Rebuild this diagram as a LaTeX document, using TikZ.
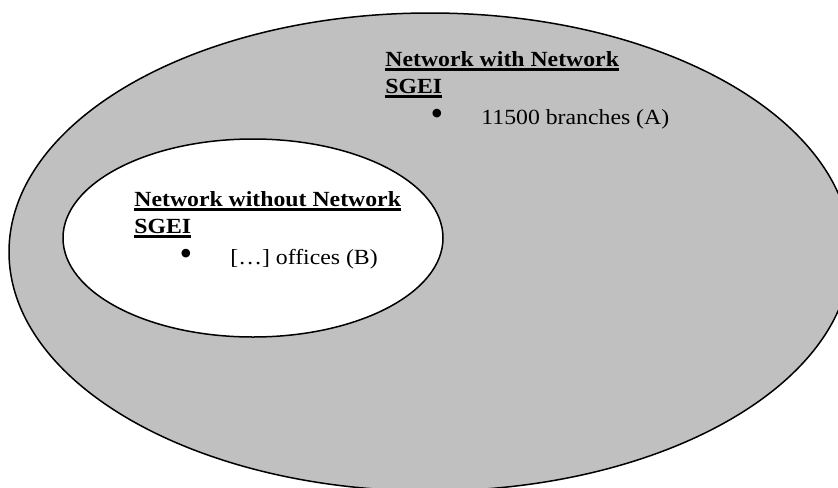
\documentclass[tikz,border=0pt]{standalone}
\usepackage{fontspec}
\setmainfont{Liberation Serif}
\newfontfamily\wideserif[FakeStretch=1.1]{Liberation Serif}
\usetikzlibrary{shapes.geometric, positioning}
\definecolor{netgray}{RGB}{192,192,192}
\newcommand{\ulbf}[1]{\setbox0\hbox{\bfseries #1}\rlap{\rule[-2.3pt]{\wd0}{1.4pt}}\box0}

\begin{document}
\begin{tikzpicture}[x=0.5pt,y=-0.5pt,
  set/.style={ellipse,draw,line width=0.75pt,inner sep=0pt},
  head/.style={anchor=base west,inner sep=0pt,font=\wideserif\fontsize{10.8}{13}\selectfont},
  item/.style={anchor=base west,inner sep=0pt,font=\wideserif\fontsize{10.8}{13}\selectfont},
  dot/.style={anchor=center,inner sep=0pt,font=\fontsize{18}{18}\selectfont}]
\useasboundingbox (0,0) rectangle (838,487);
\clip (0,0) rectangle (838,487);

% the two sets
\node[set,fill=netgray,minimum width=421pt,minimum height=239pt] (withSGEI) at (430,252) {};
\node[set,fill=white,minimum width=190pt,minimum height=99pt] (withoutSGEI) at (253,238) {};

% network with SGEI
\node[head] (headA) at (385,66) {\ulbf{Network with Network}};
\node[head] (headAb) at ([yshift=-13.5pt]headA.base west) {\ulbf{SGEI}};
\node[dot] (dotA) at ([xshift=26pt,yshift=-12pt]headAb.base west) {\textbullet};
\node[item] (itemA) at ([xshift=48pt,yshift=-15.8pt]headAb.base west) {11500 branches (A)};

% network without SGEI
\node[head] (headB) at (134,206) {\ulbf{Network without Network}};
\node[head] (headBb) at ([yshift=-13.5pt]headB.base west) {\ulbf{SGEI}};
\node[dot] (dotB) at ([xshift=26pt,yshift=-12pt]headBb.base west) {\textbullet};
\node[item] (itemB) at ([xshift=48pt,yshift=-15.8pt]headBb.base west) {[\dots] offices (B)};
\end{tikzpicture}
\end{document}
